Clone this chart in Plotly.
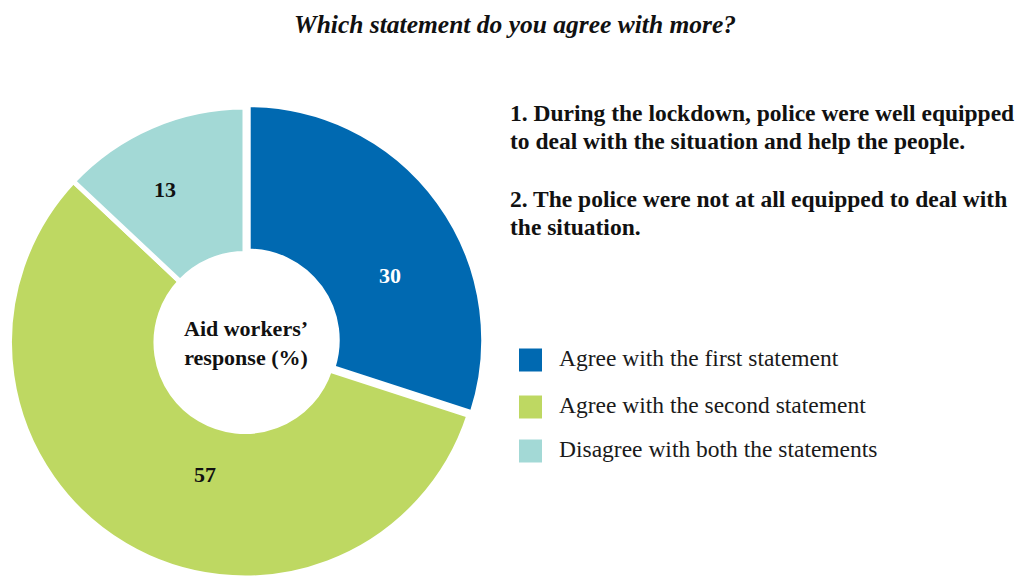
import plotly.graph_objects as go

# Survey result: aid workers' view of police preparedness during lockdown (%)
categories = [
    "Agree with the first statement",
    "Agree with the second statement",
    "Disagree with both the statements",
]
values = [30, 57, 13]
colors = ["#0069B1", "#BED862", "#A3D9D6"]

title_text = "Which statement do you agree with more?"
center_text = "Aid workers’<br>response (%)"
statement_lines = [
    "1. During the lockdown, police were well equipped",
    "to deal with the situation and help the people.",
    "",
    "2. The police were not at all equipped to deal with",
    "the situation.",
]

W, H = 1018, 578
FONT = "Liberation Serif"


def px(x):
    return x / W


def py(y):
    return 1 - y / H


# donut geometry (pixels)
cx, cy, R = 245, 342.5, 235.5
hole = 0.378
pull_dx, pull_dy = 3.2, 2.4  # outward shift of the first slice

half_w = 240
dom_x = [px(cx - half_w), px(cx + half_w)]
dom_y = [py(cy + R), py(cy - R)]
dom_x2 = [px(cx - half_w + pull_dx), px(cx + half_w + pull_dx)]
dom_y2 = [py(cy + R - pull_dy), py(cy - R - pull_dy)]

clear = "rgba(0,0,0,0)"
fig = go.Figure()

# base ring: second and third slices
fig.add_trace(go.Pie(
    labels=categories, values=values, sort=False, direction="clockwise",
    rotation=0, hole=hole, domain=dict(x=dom_x, y=dom_y),
    marker=dict(colors=[clear] + colors[1:],
                line=dict(color="white", width=5)),
    textinfo="none", hoverinfo="label+value", showlegend=False,
))

# first slice, pulled slightly outward
fig.add_trace(go.Pie(
    labels=categories, values=values, sort=False, direction="clockwise",
    rotation=0, hole=hole, domain=dict(x=dom_x2, y=dom_y2),
    marker=dict(colors=[colors[0], clear, clear],
                line=dict(color=["white", clear, clear], width=[5, 0, 0])),
    textinfo="none", hoverinfo="label+value", showlegend=False,
))

annotations = []

# slice value labels
label_xy = [(390, 275), (205, 474), (165, 190)]
label_colors = ["white", "#111111", "#111111"]
for v, (lx, ly), c in zip(values, label_xy, label_colors):
    annotations.append(dict(
        x=px(lx), y=py(ly), xref="paper", yref="paper", text=f"<b>{v}</b>",
        showarrow=False, font=dict(family=FONT, size=22, color=c),
        xanchor="center", yanchor="middle",
    ))

# centre caption
annotations.append(dict(
    x=px(cx + 1), y=py(cy + 1), xref="paper", yref="paper",
    text=f"<b>{center_text}</b>", showarrow=False,
    font=dict(family=FONT, size=22, color="#111111"),
    xanchor="center", yanchor="middle",
))

# title
annotations.append(dict(
    x=px(515), y=py(25), xref="paper", yref="paper",
    text=f"<b><i>{title_text}</i></b>", showarrow=False,
    font=dict(family=FONT, size=25.5, color="#111111"),
    xanchor="center", yanchor="middle",
))

# statement texts, one line at a time
line_y = [113, 141, 170, 199, 227]
for s, ly in zip(statement_lines, line_y):
    if not s:
        continue
    annotations.append(dict(
        x=px(508), y=py(ly), xref="paper", yref="paper",
        text=f"<b>{s}</b>", showarrow=False, align="left",
        font=dict(family=FONT, size=23.5, color="#111111"),
        xanchor="left", yanchor="middle",
    ))

# legend
shapes = []
leg_y = [360, 407, 451]
for cat, col, ly in zip(categories, colors, leg_y):
    shapes.append(dict(
        type="rect", xref="paper", yref="paper",
        x0=px(519), x1=px(542), y0=py(ly - 11.5), y1=py(ly + 11.5),
        fillcolor=col, line=dict(width=0),
    ))
    annotations.append(dict(
        x=px(557), y=py(ly - 2), xref="paper", yref="paper", text=cat,
        showarrow=False, font=dict(family=FONT, size=23.5, color="#1a1a1a"),
        xanchor="left", yanchor="middle",
    ))

fig.update_layout(
    width=W, height=H,
    margin=dict(l=0, r=0, t=0, b=0),
    paper_bgcolor="white", plot_bgcolor="white",
    annotations=annotations, shapes=shapes,
    showlegend=False,
)

fig.write_html("out.html")
